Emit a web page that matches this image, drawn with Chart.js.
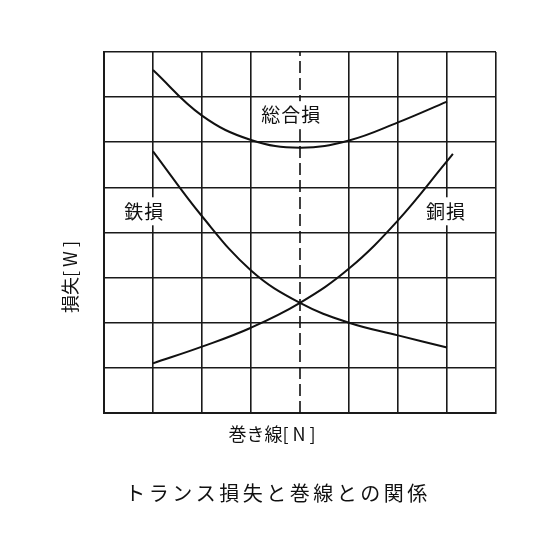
<!DOCTYPE html>
<html>
<head>
<meta charset="utf-8">
<script src="https://cdn.jsdelivr.net/npm/chart.js@4.4.1/dist/chart.umd.min.js"></script>
<style>
  html, body { margin: 0; padding: 0; background: #fff; }
  #wrap { width: 560px; height: 560px; }
</style>
</head>
<body>
<div id="wrap"><canvas id="lossChart" width="560" height="560"></canvas></div>
<script>
// Values (grid units, 8 x 8)
const windings = [1, 2, 3, 4, 5, 6, 7];
const ironLoss = [5.8, 4.36, 3.16, 2.44, 2.0, 1.72, 1.45];
const totalLoss = [7.6, 6.59, 6.05, 5.88, 6.04, 6.44, 6.9];
const copperWindings = [1, 2, 3, 4, 5, 6, 7, 7.12];
const copperLoss = [1.1, 1.47, 1.89, 2.44, 3.2, 4.27, 5.58, 5.74];

// Point where iron loss = copper loss (dashed line)
const balanceWinding = 4;
const axisMax = 8;

// Curve labels and where they sit (data coordinates)
const curveLabels = ['総合損', '鉄損', '銅損'];
const labelX = [3.8, 0.8, 6.96];
const labelY = [6.6, 4.47, 4.47];

const xTitle = '巻き線[ N ]';
const yTitle = '損失[ W ]';
const caption = 'トランス損失と巻線との関係';

const INK = '#111';
const FONT = '"Noto Sans CJK JP", "Noto Sans", sans-serif';

const toPoints = (xs, ys) => xs.map((x, i) => ({ x: x, y: ys[i] }));

// Draws curve labels (white boxes over the grid), axis titles and caption
const textPlugin = {
    id: 'lossTexts',
    afterDatasetsDraw(chart) {
        const { ctx, scales: { x, y } } = chart;
        ctx.save();
        ctx.font = '19px ' + FONT;
        ctx.letterSpacing = '1px';
        ctx.textAlign = 'center';
        ctx.textBaseline = 'middle';
        curveLabels.forEach((t, i) => {
            const px = x.getPixelForValue(labelX[i]);
            const py = y.getPixelForValue(labelY[i]);
            const w = ctx.measureText(t).width;
            ctx.fillStyle = '#fff';
            ctx.fillRect(px - w / 2 - 4, py - 14, w + 8, 28);
            ctx.fillStyle = INK;
            ctx.fillText(t, px + 1, py);
        });
        ctx.restore();
    },
    afterDraw(chart) {
        const { ctx, chartArea: a } = chart;
        ctx.save();
        ctx.fillStyle = INK;
        ctx.textAlign = 'center';
        ctx.textBaseline = 'middle';
        ctx.font = '18px ' + FONT;

        // x axis title
        ctx.fillText(xTitle, a.left + 168, a.bottom + 21);

        // y axis title (rotated)
        ctx.save();
        ctx.translate(a.left - 34, a.top + 225);
        ctx.rotate(-Math.PI / 2);
        ctx.fillText(yTitle, 0, 0);
        ctx.restore();

        // caption
        ctx.font = '20px ' + FONT;
        ctx.letterSpacing = '3.5px';
        ctx.fillText(caption, a.left + 174, a.bottom + 80);
        ctx.restore();
    }
};

const lineStyle = {
    borderColor: INK,
    borderWidth: 2,
    pointRadius: 0,
    fill: false,
    tension: 0.4
};

const ctx = document.getElementById('lossChart').getContext('2d');
new Chart(ctx, {
    type: 'line',
    data: {
        datasets: [
            Object.assign({ label: '総合損', data: toPoints(windings, totalLoss) }, lineStyle),
            Object.assign({ label: '鉄損', data: toPoints(windings, ironLoss) }, lineStyle),
            Object.assign({ label: '銅損', data: toPoints(copperWindings, copperLoss) }, lineStyle),
            {
                label: 'balance',
                data: [{ x: balanceWinding, y: 0 }, { x: balanceWinding, y: axisMax }],
                borderColor: INK,
                borderWidth: 1.6,
                borderDash: [12, 5],
                pointRadius: 0,
                fill: false,
                tension: 0
            }
        ]
    },
    plugins: [textPlugin],
    options: {
        responsive: false,
        animation: false,
        layout: { padding: { left: 104, top: 52, right: 64, bottom: 147 } },
        plugins: {
            legend: { display: false },
            tooltip: { enabled: false },
            title: { display: false }
        },
        scales: {
            x: {
                type: 'linear',
                min: 0,
                max: axisMax,
                ticks: { display: false, stepSize: 1 },
                grid: {
                    drawTicks: false,
                    lineWidth: 1.6,
                    color: c => (c.tick && c.tick.value === balanceWinding) ? 'rgba(0,0,0,0)' : '#1a1a1a'
                },
                border: { color: '#1a1a1a', width: 2 }
            },
            y: {
                type: 'linear',
                min: 0,
                max: axisMax,
                ticks: { display: false, stepSize: 1 },
                grid: { drawTicks: false, lineWidth: 1.6, color: '#1a1a1a' },
                border: { color: '#1a1a1a', width: 2 }
            }
        }
    }
});
</script>
</body>
</html>
